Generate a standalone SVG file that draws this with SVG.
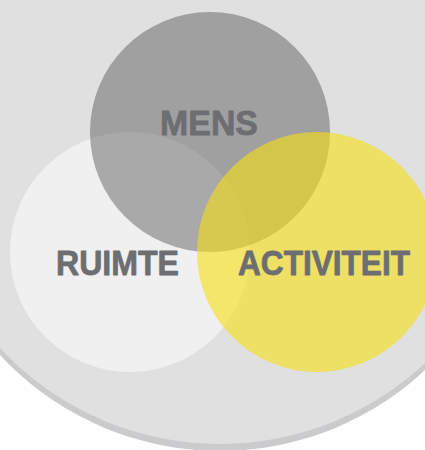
<svg xmlns="http://www.w3.org/2000/svg" width="425" height="450" viewBox="0 0 425 450">
<style>
.lbl{font-family:"Liberation Sans",Arial,sans-serif;font-weight:bold;font-size:35px;fill:#6d6e71;stroke:#6d6e71;stroke-width:0.8;stroke-linejoin:round}
</style>
<rect width="425" height="450" fill="#ffffff"/>
<g id="background">
<circle cx="220" cy="151" r="300" fill="#cbcbcd"/>
<circle cx="220" cy="144" r="300" fill="#e0e0e0"/>
</g>
<g id="ruimte">
<circle cx="130" cy="252" r="120" fill="#f0f0f0"/>
</g>
<g id="mens">
<circle cx="210" cy="132" r="120" fill="#4d4d50" fill-opacity="0.44"/>
</g>
<g id="activiteit">
<circle cx="317" cy="252" r="120" fill="#f6de12" fill-opacity="0.6"/>
</g>
<g id="connectors"></g>
<g id="labels">
<text class="lbl" x="160" y="135" textLength="98" lengthAdjust="spacingAndGlyphs">MENS</text>
<text class="lbl" x="56" y="275" textLength="123" lengthAdjust="spacingAndGlyphs">RUIMTE</text>
<text class="lbl" x="238" y="275" textLength="172" lengthAdjust="spacingAndGlyphs">ACTIVITEIT</text>
</g>
</svg>
